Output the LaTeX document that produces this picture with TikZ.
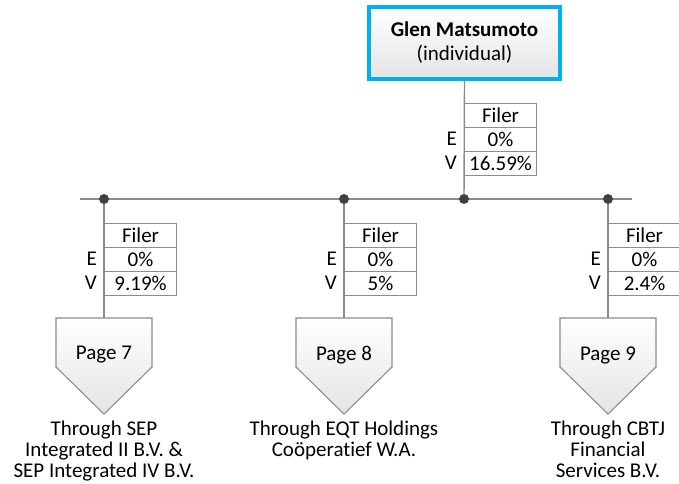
\documentclass[tikz,border=0pt]{standalone}
\usepackage{fontspec}
\setmainfont{Carlito}[Ligatures=NoCommon]
\usetikzlibrary{positioning}
\definecolor{ownerblue}{HTML}{00B0F0}
\definecolor{linegrey}{HTML}{8C8C8C}
\definecolor{boxgrey}{HTML}{E4E4E4}
\definecolor{dotgrey}{HTML}{404040}
\tikzset{
  x=1pt,y=-1pt,
  every node/.style={font=\fontsize{21}{21}\selectfont},
  owner/.style={draw=ownerblue, line width=4pt, top color=white, bottom color=boxgrey,
    minimum width=191, minimum height=72, align=center, inner sep=0pt},
  cell/.style={draw=linegrey, line width=1.1pt, minimum width=72, minimum height=24,
    inner sep=0pt, anchor=north west},
  side/.style={anchor=east, inner sep=0pt},
  link/.style={draw=linegrey, line width=1.4pt},
  pagebox/.style={draw=linegrey, line width=1.1pt, top color=white, bottom color=boxgrey},
  joint/.style={fill=dotgrey, circle, inner sep=0pt, minimum size=10pt},
  through/.style={align=center, anchor=north, inner sep=0pt}
}
\begin{document}
\begin{tikzpicture}
  \useasboundingbox (0,0) rectangle (679,483);

  % owner
  \node[owner, font=\fontsize{21}{24}\selectfont] (glen) at (464.5,43) {\textbf{Glen Matsumoto}\\(individual)};

  % bus
  \coordinate (busL) at (80,199);
  \coordinate (busR) at (632,199);
  \draw[link] (busL) -- (busR);
  \node[joint] (jtop) at (464,199) {};
  \draw[link] (glen.south) -- (jtop);

  % owner's stake
  \node[cell] (tf) at (464,103) {Filer};
  \node[cell] (te) at (464,127) {0\%};
  \node[cell] (tv) at (464,151) {16.59\%};
  \node[side] at (457,139) {E};
  \node[side] at (457,163) {V};

  % branches
  \foreach \x/\val/\pg/\txt in {104/9.19/7/{Through SEP\\Integrated II B.V. \&\\SEP Integrated IV B.V.},
                                344/5/8/{Through EQT Holdings\\Coöperatief W.A.},
                                608/2.4/9/{Through CBTJ\\Financial\\Services B.V.}}{
    \node[joint] (j\pg) at (\x,199) {};
    \coordinate (top\pg) at (\x,318);
    \draw[link] (j\pg) -- (top\pg);
    \node[cell] (f\pg) at (\x,223) {Filer};
    \node[cell] (e\pg) at (\x,247) {0\%};
    \node[cell] (v\pg) at (\x,271) {\val\%};
    \node[side] at (\x-7,259) {E};
    \node[side] at (\x-7,283) {V};
    \path[pagebox] (\x-48,318) -- (\x+48,318) -- (\x+48,367) -- (\x,414) -- (\x-48,367) -- cycle;
    \node (p\pg) at (\x,355) {Page \pg};
    \node[through] (t\pg) at (\x,421) {\txt};
  }
\end{tikzpicture}
\end{document}
